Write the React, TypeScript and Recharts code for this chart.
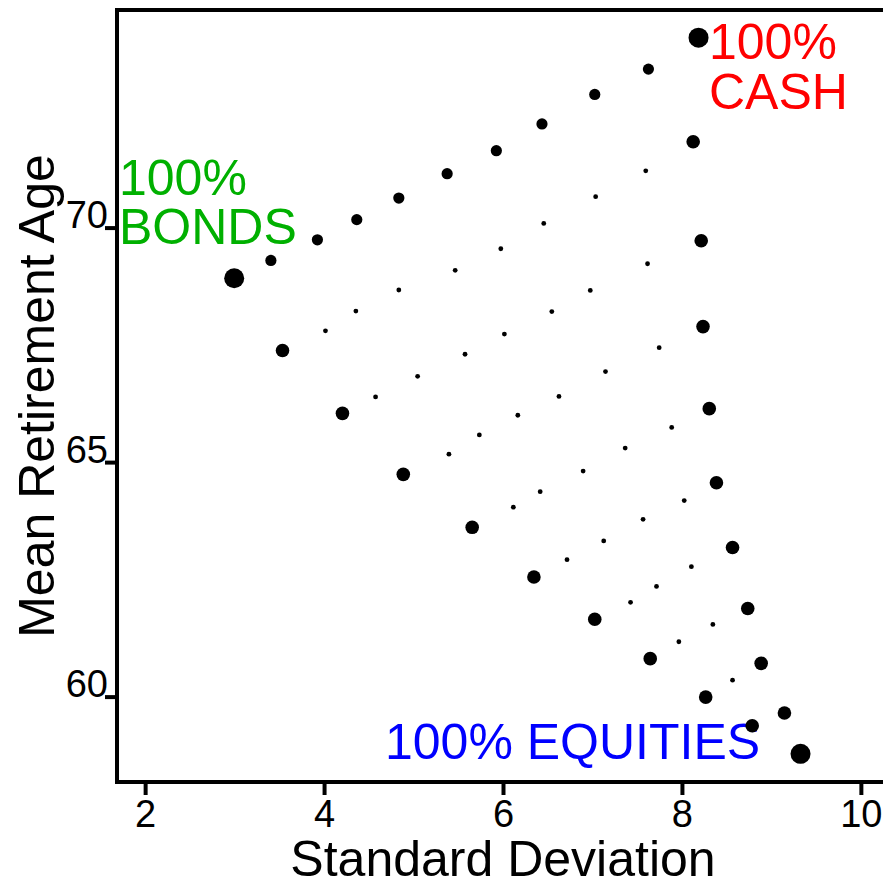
import React from 'react'
import {
    ScatterChart,
    Scatter,
    XAxis,
    YAxis,
    ReferenceArea,
} from 'recharts'

// portfolio mixes: [standard deviation, mean retirement age]
const vertices: [number, number][] = [
    [2.99, 68.93], // 100% bonds
    [8.18, 74.06], // 100% cash
    [9.32, 58.79], // 100% equities
]

const bondsCashEdge: [number, number][] = [
    [3.40, 69.31], [3.92, 69.75], [4.36, 70.18], [4.83, 70.64], [5.37, 71.16],
    [5.92, 71.65], [6.43, 72.22], [7.02, 72.85], [7.62, 73.39],
]

const cashEquityEdge: [number, number][] = [
    [8.12, 71.84], [8.21, 69.73], [8.23, 67.90], [8.30, 66.15], [8.38, 64.57],
    [8.56, 63.19], [8.73, 61.89], [8.88, 60.72], [9.14, 59.66],
]

const bondsEquityEdge: [number, number][] = [
    [3.53, 67.39], [4.20, 66.05], [4.88, 64.75], [5.65, 63.62], [6.34, 62.56],
    [7.02, 61.66], [7.64, 60.82], [8.26, 60.00], [8.78, 59.39],
]

const interior: [number, number][] = [
    [4.83, 68.68], [7.59, 71.22], [7.03, 70.67], [6.45, 70.10], [5.97, 69.56],
    [5.46, 69.10], [7.61, 69.24], [6.97, 68.67], [4.35, 68.23], [4.01, 67.81],
    [4.57, 66.40], [6.54, 68.22], [6.01, 67.74], [5.57, 67.31], [5.04, 66.84],
    [7.74, 67.45], [7.14, 66.94], [6.62, 66.41], [6.16, 66.01], [5.73, 65.59],
    [5.39, 65.18], [7.88, 65.75], [7.36, 65.31], [6.89, 64.82], [6.41, 64.38],
    [6.11, 64.05], [8.02, 64.19], [7.56, 63.79], [7.12, 63.33], [6.71, 62.93],
    [8.10, 62.78], [7.71, 62.36], [7.42, 62.02], [8.34, 61.55], [7.96, 61.18],
    [8.56, 60.36],
]

const xTicks = [2, 4, 6, 8, 10]
const yTicks = [60, 65, 70]
const xDomain: [number, number] = [1.68, 10.32]
const yDomain: [number, number] = [58.19, 74.65]

const toPoints = (arr: [number, number][]) => arr.map(([sd, age]) => ({ sd, age }))

const FONT = '"Liberation Sans", Arial, Helvetica, sans-serif'

const dot = (r: number) => (props: any) => (
    <circle cx={props.cx} cy={props.cy} r={r} fill="#000" />
)

const XTick = (props: any) => {
    const { x, y, payload } = props
    return (
        <text x={x} y={y + 32} textAnchor="middle" fontSize={38} fontFamily={FONT} fill="#000">
            {payload.value}
        </text>
    )
}

const YTick = (props: any) => {
    const { x, y, payload } = props
    return (
        <text x={x + 3} y={y} textAnchor="end" fontSize={38} fontFamily={FONT} fill="#000">
            {payload.value}
        </text>
    )
}

export default function App() {
    return (
        <div style={{ position: 'absolute', left: 0, top: 0, width: 883, height: 882, overflow: 'hidden', background: '#fff' }}>
            <ScatterChart
                width={900}
                height={882}
                margin={{ top: 10, right: 10, left: 57, bottom: 40 }}
            >
                <XAxis
                    type="number"
                    dataKey="sd"
                    domain={xDomain}
                    ticks={xTicks}
                    allowDataOverflow
                    height={60}
                    axisLine={false}
                    tickSize={13}
                    tickMargin={0}
                    tickLine={{ stroke: '#000', strokeWidth: 4 }}
                    tick={<XTick />}
                />
                <YAxis
                    type="number"
                    dataKey="age"
                    domain={yDomain}
                    ticks={yTicks}
                    allowDataOverflow
                    width={60}
                    axisLine={false}
                    tickSize={12}
                    tickMargin={0}
                    tickLine={{ stroke: '#000', strokeWidth: 4 }}
                    tick={<YTick />}
                />
                <ReferenceArea
                    x1={xDomain[0]}
                    x2={xDomain[1]}
                    y1={yDomain[0]}
                    y2={yDomain[1]}
                    fill="none"
                    stroke="#000"
                    strokeWidth={4}
                />
                <Scatter data={toPoints(interior)} shape={dot(2.4)} isAnimationActive={false} />
                <Scatter data={toPoints(bondsCashEdge)} shape={dot(5.6)} isAnimationActive={false} />
                <Scatter data={toPoints(cashEquityEdge)} shape={dot(6.8)} isAnimationActive={false} />
                <Scatter data={toPoints(bondsEquityEdge)} shape={dot(6.8)} isAnimationActive={false} />
                <Scatter data={toPoints(vertices)} shape={dot(10)} isAnimationActive={false} />

                <g fontFamily={FONT} fontSize={50}>
                    <text x={119} y={195} fill="#00b000">100%</text>
                    <text x={119} y={244} fill="#00b000">BONDS</text>
                    <text x={709} y={59} fill="#ff0000">100%</text>
                    <text x={709} y={109} fill="#ff0000">CASH</text>
                    <text x={385} y={759} fill="#0000ff">100% EQUITIES</text>
                    <text x={503} y={876} textAnchor="middle" fill="#000">Standard Deviation</text>
                    <text x={54} y={396} textAnchor="middle" fill="#000" transform="rotate(-90 54 396)">
                        Mean Retirement Age
                    </text>
                </g>
            </ScatterChart>
        </div>
    )
}
